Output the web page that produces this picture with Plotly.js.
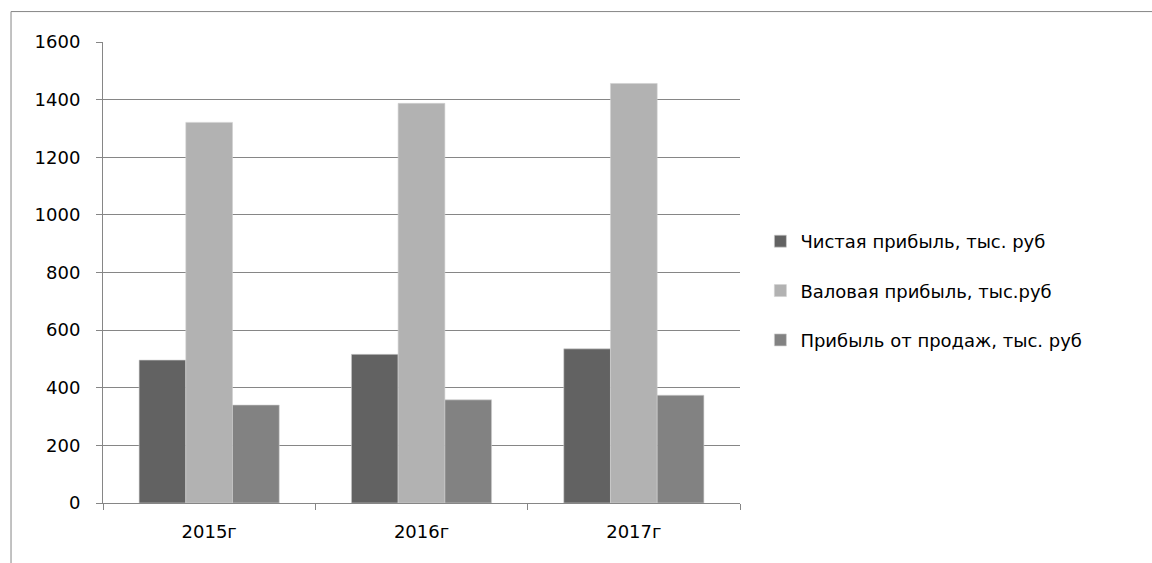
<!DOCTYPE html>
<html>
<head>
<meta charset="utf-8">
<script src="https://cdn.plot.ly/plotly-3.0.1.min.js"></script>
<style>html,body{margin:0;padding:0;background:#fff;}#chart{width:1152px;height:563px;}</style>
</head>
<body>
<div id="chart"></div>
<script>
const categories = ['2015г', '2016г', '2017г'];
const seriesNames = ['Чистая прибыль, тыс. руб', 'Валовая прибыль, тыс.руб', 'Прибыль от продаж, тыс. руб'];
const netProfit = [496, 516, 535];
const grossProfit = [1321, 1387, 1456];
const salesProfit = [340, 358, 374];
const colors = ['#626262', '#b2b2b2', '#828282'];

const values = [netProfit, grossProfit, salesProfit];
const traces = values.map((v, i) => ({
  type: 'bar',
  name: seriesNames[i],
  x: categories,
  y: v,
  marker: {color: colors[i], line: {color: '#d0d0d0', width: 0.6}},
  legendgroup: 'g' + i,
  hoverinfo: 'x+y'
}));

const font = {family: '"DejaVu Sans", "Open Sans", sans-serif', size: 18, color: '#000'};
const layout = {
  width: 1152, height: 563,
  margin: {l: 103, r: 412, t: 42, b: 60, pad: 0},
  paper_bgcolor: '#fff', plot_bgcolor: '#fff',
  font: font,
  barmode: 'group', bargap: 0.34, bargroupgap: 0,
  showlegend: true,
  legend: {x: 1.032, y: 0.46, xanchor: 'left', yanchor: 'middle', font: font,
           traceorder: 'grouped', tracegroupgap: 23, itemwidth: 30, bgcolor: 'rgba(0,0,0,0)'},
  xaxis: {type: 'category', showline: true, linecolor: '#868686', linewidth: 1,
          ticks: 'outside', tickson: 'boundaries', ticklen: 6, tickcolor: '#868686',
          showgrid: false, zeroline: false, tickfont: font, ticklabelstandoff: 12},
  yaxis: {range: [0, 1600], dtick: 200, showline: true, linecolor: '#868686', linewidth: 1,
          ticks: 'outside', ticklen: 6, tickcolor: '#868686',
          showgrid: true, gridcolor: '#868686', gridwidth: 1, zeroline: false,
          tickfont: font, ticklabelstandoff: 12},
  shapes: [{type: 'rect', xref: 'paper', yref: 'paper', x0: -0.1444, x1: 1.66, y0: -0.2, y1: 1.066,
            line: {color: '#868686', width: 1}, fillcolor: 'rgba(0,0,0,0)', layer: 'below'}]
};
Plotly.newPlot('chart', traces, layout, {displayModeBar: false, staticPlot: true});
</script>
</body>
</html>
